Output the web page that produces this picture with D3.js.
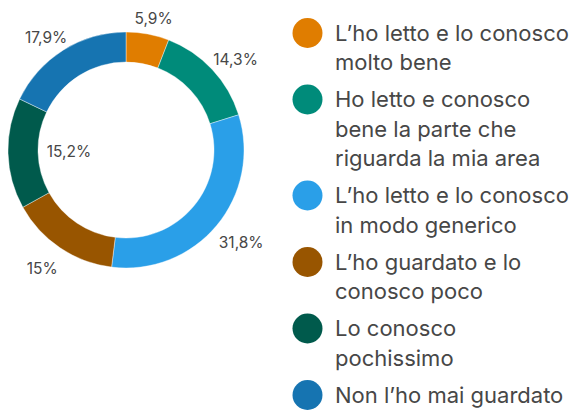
<!DOCTYPE html>
<html>
<meta charset="utf-8">
<head>
<title>Conoscenza del documento</title>
<script src="https://cdnjs.cloudflare.com/ajax/libs/d3/7.8.5/d3.min.js"></script>
<style>
    body { margin: 0; background: #fff; }
</style>
</head>

<body>
<script>

const width = 578,
    height = 410;

// Categories (legend lines split as in the original)
const categories = [
    "L’ho letto e lo conosco\nmolto bene",
    "Ho letto e conosco\nbene la parte che\nriguarda la mia area",
    "L’ho letto e lo conosco\nin modo generico",
    "L’ho guardato e lo\nconosco poco",
    "Lo conosco\npochissimo",
    "Non l’ho mai guardato"
];
const values = [5.9, 14.3, 31.8, 15, 15.2, 17.9];
const valueLabels = ["5,9%", "14,3%", "31,8%", "15%", "15,2%", "17,9%"];
const colours = ["#e07d00", "#008b7a", "#2a9fe8", "#985500", "#005a4c", "#1674b1"];

const fontFamily = "Inter, Roboto, sans-serif";
const textColour = "#474747";

const svg = d3.select("body")
    .append("svg")
    .attr("width", width)
    .attr("height", height);

const cx = 126,
    cy = 150,
    outerR = 118,
    innerR = 88;

const pie = d3.pie().sort(null).value(d => d.value);
const arc = d3.arc().innerRadius(innerR).outerRadius(outerR);

const data = pie(values.map((v, i) => ({ value: v, label: valueLabels[i], colour: colours[i] })));

const g = svg.append("g").attr("transform", `translate(${cx},${cy})`);

g.selectAll("path")
    .data(data)
    .enter()
    .append("path")
    .attr("d", arc)
    .attr("fill", d => d.data.colour)
    .attr("stroke", "#fff")
    .attr("stroke-width", 0.4);

// Value labels: placed on an ellipse round the ring, moved into the hole when they would leave the picture
const labelRx = 150,
    labelRy = 138,
    labelDy = 4,
    labelFont = 15.5;

g.selectAll("text.value")
    .data(data)
    .enter()
    .append("text")
    .attr("class", "value")
    .attr("font-family", fontFamily)
    .attr("font-size", labelFont + "px")
    .attr("fill", textColour)
    .attr("text-anchor", "middle")
    .text(d => d.data.label)
    .each(function(d) {
        const a = (d.startAngle + d.endAngle) / 2;
        const w = this.getComputedTextLength();
        let x = Math.sin(a) * labelRx,
            y = -Math.cos(a) * labelRy + labelDy;
        if (cx + x - w / 2 < 0 || cx + x + w / 2 > 280) {
            x = Math.sin(a) * (innerR - 31);
            y = -Math.cos(a) * (innerR - 31);
        }
        d3.select(this)
            .attr("x", x)
            .attr("y", y + labelFont * 0.36);
    });

// Legend
const legendX = 307.5,
    legendTextX = 335,
    legendFont = 22,
    lineHeight = 29.5,
    itemGap = 37;

let y = 33;
categories.forEach((c, i) => {
    const lines = c.split("\n");
    svg.append("circle")
        .attr("cx", legendX)
        .attr("cy", y)
        .attr("r", 15)
        .attr("fill", colours[i]);
    const t = svg.append("text")
        .attr("font-family", fontFamily)
        .attr("font-size", legendFont + "px")
        .attr("fill", textColour);
    lines.forEach((l, j) => {
        t.append("tspan")
            .attr("x", legendTextX)
            .attr("y", y + j * lineHeight + legendFont * 0.36)
            .text(l);
    });
    y += (lines.length - 1) * lineHeight + itemGap;
});

</script>

</body>
</html>
